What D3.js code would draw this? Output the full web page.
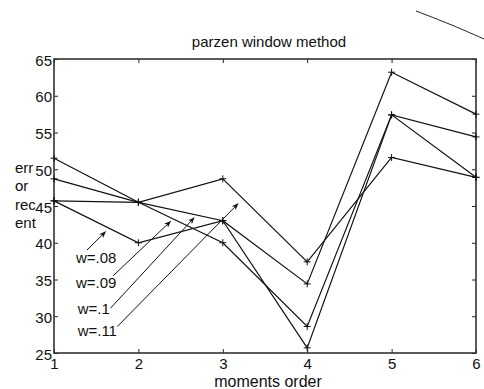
<!DOCTYPE html>
<html>
<head>
<meta charset="utf-8">
<script src="https://cdn.jsdelivr.net/npm/d3@7"></script>
<style>
  body { margin: 0; background: #fff; }
  svg { display: block; font-family: "Liberation Sans", Arial, sans-serif; }
  .axis path { display: none; }
  .axis line { stroke: #222; }
  .axis text { font-size: 15px; fill: #111; }
</style>
</head>
<body>
<div id="chart"></div>
<script>
// chart data
const orders = [1, 2, 3, 4, 5, 6];
const seriesNames = ['w=.08', 'w=.09', 'w=.1', 'w=.11'];
const w08 = [45.7, 40.0, 43.0, 34.4, 63.2, 57.5];
const w09 = [51.5, 45.5, 40.0, 28.6, 57.4, 54.4];
const w10 = [48.7, 45.5, 43.0, 25.7, 57.4, 48.9];
const w11 = [45.7, 45.5, 48.7, 37.4, 51.6, 48.9];
const yTicks = [25, 30, 35, 40, 45, 50, 55, 60, 65];

// annotation arrows: label position and the point it points at, in data units
const arrowTips = [
    { label: 'w=.08', lx: 1.26, ly: 37.3, from: [1.39, 39.0], to: [1.61, 41.5] },
    { label: 'w=.09', lx: 1.26, ly: 33.9, from: [1.70, 35.5], to: [2.38, 42.9] },
    { label: 'w=.1',  lx: 1.28, ly: 30.3, from: [1.67, 31.1], to: [2.66, 43.4] },
    { label: 'w=.11', lx: 1.28, ly: 27.3, from: [1.75, 28.6], to: [3.18, 45.3] }
];

const width = 484, height = 389;
const margin = { top: 59, right: 8, bottom: 36, left: 54 };
const innerW = width - margin.left - margin.right;
const innerH = height - margin.top - margin.bottom;

const svg = d3.select('#chart').append('svg')
    .attr('width', width)
    .attr('height', height);

const defs = svg.append('defs');
defs.append('marker')
    .attr('id', 'head')
    .attr('viewBox', '0 0 10 10')
    .attr('refX', 9).attr('refY', 5)
    .attr('markerWidth', 7).attr('markerHeight', 7)
    .attr('orient', 'auto')
    .append('path')
    .attr('d', 'M0,1 L10,5 L0,9 L3,5 Z')
    .attr('fill', '#111');

const xScale = d3.scaleLinear().domain([1, 6]).range([0, innerW]);
const yScale = d3.scaleLinear().domain([25, 65]).range([innerH, 0]);

const chart = svg.append('g')
    .attr('transform', `translate(${margin.left}, ${margin.top})`);

// axes, ticks pointing inward like matlab
chart.append('g').attr('class', 'axis axis-x')
    .attr('transform', `translate(0, ${innerH})`)
    .call(d3.axisBottom(xScale).tickValues(orders).tickFormat(d3.format('d')).tickSizeInner(-4).tickPadding(5));
chart.append('g').attr('class', 'axis axis-x-top')
    .call(d3.axisTop(xScale).tickValues(orders).tickSizeInner(-4).tickFormat(''));
chart.append('g').attr('class', 'axis axis-y')
    .call(d3.axisLeft(yScale).tickValues(yTicks).tickSizeInner(-4).tickPadding(2));
chart.append('g').attr('class', 'axis axis-y-right')
    .attr('transform', `translate(${innerW}, 0)`)
    .call(d3.axisRight(yScale).tickValues(yTicks).tickSizeInner(-4).tickFormat(''));

chart.selectAll('.axis-y text').attr('dy', '0.4em');

// frame
chart.append('rect')
    .attr('width', innerW).attr('height', innerH)
    .attr('fill', 'none').attr('stroke', '#333').attr('stroke-width', 1.6);

// lines
const allSeries = [w08, w09, w10, w11];
const line = d3.line()
    .x((d, i) => xScale(orders[i]))
    .y(d => yScale(d));

chart.selectAll('.series')
    .data(allSeries)
    .enter()
    .append('path')
    .attr('class', 'series')
    .attr('d', d => line(d))
    .attr('fill', 'none')
    .attr('stroke', '#111')
    .attr('stroke-width', 1.2);

// plus markers
const pts = [];
allSeries.forEach(s => s.forEach((v, i) => pts.push([orders[i], v])));
chart.selectAll('.mark')
    .data(pts)
    .enter()
    .append('path')
    .attr('class', 'mark')
    .attr('d', d => {
        const x = xScale(d[0]), y = yScale(d[1]);
        return `M${x - 3.5},${y}H${x + 3.5}M${x},${y - 3.5}V${y + 3.5}`;
    })
    .attr('stroke', '#111')
    .attr('stroke-width', 1);

// labels with arrows
chart.selectAll('.arrow')
    .data(arrowTips)
    .enter()
    .append('line')
    .attr('class', 'arrow')
    .attr('x1', d => xScale(d.from[0])).attr('y1', d => yScale(d.from[1]))
    .attr('x2', d => xScale(d.to[0])).attr('y2', d => yScale(d.to[1]))
    .attr('stroke', '#111').attr('stroke-width', 1)
    .attr('marker-end', 'url(#head)');

chart.selectAll('.wlabel')
    .data(arrowTips)
    .enter()
    .append('text')
    .attr('class', 'wlabel')
    .attr('x', d => xScale(d.lx))
    .attr('y', d => yScale(d.ly))
    .attr('font-size', 15)
    .attr('fill', '#111')
    .text(d => d.label);

// title and axis labels
svg.append('text')
    .attr('x', 269).attr('y', 47)
    .attr('text-anchor', 'middle')
    .attr('font-size', 15)
    .attr('fill', '#111')
    .text('parzen window method');

svg.append('text')
    .attr('x', 268).attr('y', 387)
    .attr('text-anchor', 'middle')
    .attr('font-size', 16)
    .attr('fill', '#111')
    .text('moments order');

const ylab = svg.append('text')
    .attr('x', 15).attr('y', 173)
    .attr('font-size', 15)
    .attr('fill', '#111');
['err', 'or', 'rec', 'ent'].forEach((t, i) => {
    ylab.append('tspan').attr('x', 15).attr('dy', i ? 18.3 : 0).text(t);
});

// pen stroke on the scan, top right
svg.append('path')
    .attr('d', d3.line().curve(d3.curveBasis)([[416, 11], [450, 24], [484, 39]]))
    .attr('fill', 'none')
    .attr('stroke', '#222')
    .attr('stroke-width', 1);
</script>
</body>
</html>
